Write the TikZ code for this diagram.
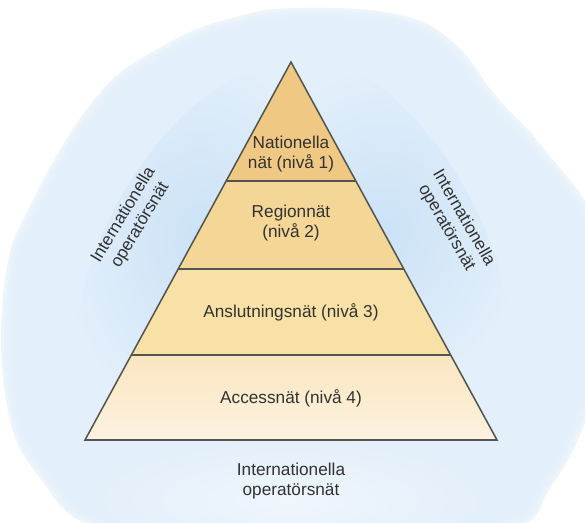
\documentclass[tikz,border=0pt]{standalone}
\usepackage{fontspec}
\setmainfont{Liberation Sans}
\usepackage{tikz}
\usetikzlibrary{calc}

\definecolor{bgblue}{RGB}{227,239,250}
\definecolor{glowblue}{RGB}{203,226,247}
\definecolor{paleblue}{RGB}{240,246,252}
\definecolor{lvlone}{RGB}{239,200,132}
\definecolor{lvltwo}{RGB}{244,214,150}
\definecolor{lvlthree}{RGB}{247,225,166}
\definecolor{lvlfourtop}{RGB}{250,229,191}
\definecolor{lvlfourbot}{RGB}{253,243,225}
\definecolor{linegray}{RGB}{85,85,80}
\definecolor{textgray}{RGB}{50,50,50}

\begin{document}
\begin{tikzpicture}[x=0.03cm, y=-0.03cm,
  every node/.style={font=\fontsize{14.7}{16.8}\selectfont, text=textgray},
  lvl/.style={align=center},
  side/.style={align=center},
  edge/.style={draw=linegray, line width=1.3pt, line join=miter}]
\useasboundingbox (0,0) rectangle (585,522);
\clip (0,0) rectangle (585,522);

% background blob
\def\blob{plot[smooth cycle, tension=0.7] coordinates {(300,8) (400,15) (455,44) (495,95) (545,150) (600,230) (614,330) (590,410) (552,485) (500,532) (300,545) (110,532) (38,475) (6,400) (5,280) (33,200) (98,95) (165,45) (232,18)}}
\fill[bgblue] \blob;
\begin{scope}
  \clip \blob;
  \shade[inner color=paleblue, outer color=bgblue] (290,500) ellipse (200 and 60);
  \shade[inner color=glowblue, outer color=bgblue, rotate around={-30:(200,240)}] (200,240) ellipse (90 and 190);
  \shade[inner color=glowblue, outer color=bgblue, rotate around={30:(385,230)}] (385,230) ellipse (90 and 190);
  \foreach \w/\o in {16/0.1, 10/0.15, 5/0.25}
    \draw[white, line width=\w pt, opacity=\o] \blob;
\end{scope}

% pyramid
\coordinate (top) at (291,62);
\coordinate (bl) at (85,440);
\coordinate (br) at (497,440);
\coordinate (l1) at ($(top)!0.315!(bl)$);
\coordinate (r1) at ($(top)!0.315!(br)$);
\coordinate (l2) at ($(top)!0.548!(bl)$);
\coordinate (r2) at ($(top)!0.548!(br)$);
\coordinate (l3) at ($(top)!0.775!(bl)$);
\coordinate (r3) at ($(top)!0.775!(br)$);

\fill[lvlone] (top) -- (r1) -- (l1) -- cycle;
\fill[lvltwo] (l1) -- (r1) -- (r2) -- (l2) -- cycle;
\fill[lvlthree] (l2) -- (r2) -- (r3) -- (l3) -- cycle;
\shade[top color=lvlfourtop, bottom color=lvlfourbot] (l3) -- (r3) -- (br) -- (bl) -- cycle;
\draw[edge] (top) -- (br) -- (bl) -- cycle;
\draw[edge] (l1) -- (r1);
\draw[edge] (l2) -- (r2);
\draw[edge] (l3) -- (r3);

% labels
\node[lvl] (nat) at (291,154) {Nationella\\nät (nivå 1)};
\node[lvl] (reg) at (291,223) {Regionnät\\(nivå 2)};
\node[lvl] (ans) at (291,312) {Anslutningsnät (nivå 3)};
\node[lvl] (acc) at (291,398) {Accessnät (nivå 4)};

\node[side, rotate=59] (intl) at (132,220) {Internationella\\operatörsnät};
\node[side, rotate=-60] (intr) at (455,223) {Internationella\\operatörsnät};
\node[side] (intb) at (291,481) {Internationella\\operatörsnät};
\end{tikzpicture}
\end{document}
